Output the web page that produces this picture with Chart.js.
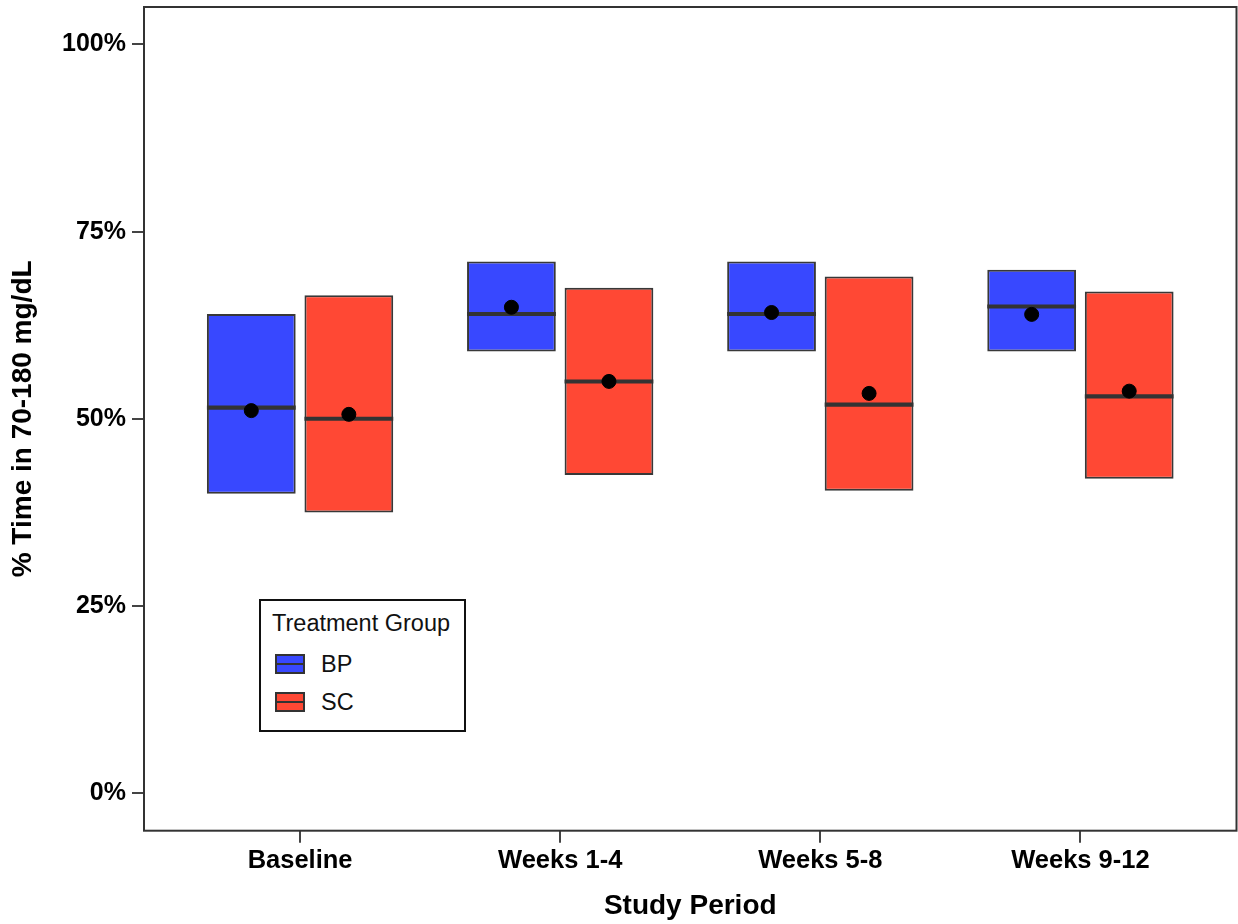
<!DOCTYPE html>
<html>
<head>
<meta charset="utf-8">
<script src="https://cdn.jsdelivr.net/npm/chart.js@4.4.1/dist/chart.umd.min.js"></script>
<style>
html,body{margin:0;padding:0;background:#fff;}
#wrap{position:relative;width:1238px;height:924px;}
canvas{display:block;}
#legend{position:absolute;left:259px;top:599px;width:203px;height:129px;border:2px solid #111;background:#fff;
  font-family:"Liberation Sans",Arial,sans-serif;font-size:23.5px;line-height:23.5px;color:#111;}
#legend .t{position:absolute;white-space:nowrap;}
#legend .sw{position:absolute;width:26px;height:16px;border:2px solid #333;}
#legend .sw::after{content:"";position:absolute;left:0;right:0;top:7px;height:2px;background:#333;}
</style>
</head>
<body>
<div id="wrap">
<canvas id="c" width="1238" height="924"></canvas>
<div id="legend"></div>
</div>
<script>
// ---- data ----
const categories = ['Baseline', 'Weeks 1-4', 'Weeks 5-8', 'Weeks 9-12'];
const groups = ['BP', 'SC'];
const bpQ1 = [40.0, 59.0, 59.0, 59.0];
const bpQ3 = [64.0, 71.0, 71.0, 69.9];
const bpMedian = [51.5, 64.0, 64.0, 65.0];
const bpMean = [51.1, 64.9, 64.2, 63.95];
const scQ1 = [37.5, 42.5, 40.4, 42.0];
const scQ3 = [66.5, 67.5, 69.0, 67.0];
const scMedian = [50.0, 55.0, 51.9, 53.0];
const scMean = [50.6, 55.0, 53.4, 53.7];
const yTicks = [0, 25, 50, 75, 100];

// ---- styles ----
const colors = { BP: 'rgb(56,72,255)', SC: 'rgb(255,72,52)' };
const edge = '#383838';
const catPct = 0.75, barPct = 0.91;
const groupOffset = [-catPct / 4, catPct / 4];
const medianHalf = 0.27;

const seriesData = {
  BP: { q1: bpQ1, q3: bpQ3, med: bpMedian, mean: bpMean },
  SC: { q1: scQ1, q3: scQ3, med: scMedian, mean: scMean }
};

Chart.defaults.font.family = '"Liberation Sans", Arial, sans-serif';
Chart.defaults.color = '#000';

const datasets = [];
groups.forEach(g => {
  const s = seriesData[g];
  datasets.push({
    type: 'bar', label: g, stack: g, order: 3,
    data: categories.map((c, i) => ({ x: i, y: [s.q1[i], s.q3[i]] })),
    backgroundColor: colors[g], borderColor: edge, borderWidth: 2, borderSkipped: false,
    categoryPercentage: catPct, barPercentage: barPct
  });
});
groups.forEach(g => {
  const s = seriesData[g];
  datasets.push({
    type: 'bar', label: g + ' median', stack: g, order: 2,
    data: categories.map((c, i) => ({ x: i, y: [s.med[i] - medianHalf, s.med[i] + medianHalf] })),
    backgroundColor: '#333', borderWidth: 0,
    categoryPercentage: catPct, barPercentage: barPct
  });
});
groups.forEach((g, gi) => {
  const s = seriesData[g];
  datasets.push({
    type: 'scatter', label: g + ' mean', order: 1,
    data: categories.map((c, i) => ({ x: i + groupOffset[gi], y: s.mean[i] })),
    pointRadius: 7, pointBackgroundColor: '#000', pointBorderColor: '#000', pointBorderWidth: 1
  });
});

const framePlugin = {
  id: 'frame',
  beforeDatasetsDraw(chart) {
    const { ctx, chartArea: a } = chart;
    ctx.save();
    ctx.strokeStyle = '#333';
    ctx.lineWidth = 2;
    ctx.strokeRect(a.left, a.top, a.right - a.left, a.bottom - a.top);
    ctx.restore();
  }
};

new Chart(document.getElementById('c'), {
  type: 'bar',
  data: { datasets },
  plugins: [framePlugin],
  options: {
    responsive: false,
    animation: false,
    devicePixelRatio: 1,
    layout: { autoPadding: false, padding: { top: 7, right: 1.5, left: 0, bottom: 0 } },
    plugins: { legend: { display: false }, tooltip: { enabled: false } },
    scales: {
      x: {
        type: 'linear', min: -0.6, max: 3.6, offset: false,
        afterBuildTicks: ax => { ax.ticks = categories.map((c, i) => ({ value: i })); },
        afterFit: ax => { ax.height = 93.3; ax.paddingLeft = 0; ax.paddingRight = 0; },
        ticks: {
          autoSkip: false, maxRotation: 0, padding: 3,
          font: { size: 25.5, weight: 'bold' }, color: '#000',
          callback: v => categories[v]
        },
        grid: { display: true, offset: false, drawOnChartArea: false, drawTicks: true, tickLength: 12, color: '#444', lineWidth: 2 },
        border: { display: false },
        title: { display: true, text: 'Study Period', font: { size: 28, weight: 'bold' }, color: '#000', padding: { top: 0, bottom: 1 } }
      },
      y: {
        type: 'linear', min: -5, max: 105, stacked: false,
        afterBuildTicks: ax => { ax.ticks = yTicks.map(v => ({ value: v })); },
        afterFit: ax => { ax.width = 144; ax.paddingTop = 0; ax.paddingBottom = 0; },
        ticks: {
          padding: 6, font: { size: 25, weight: 'bold' }, color: '#000',
          callback: v => v + '%'
        },
        grid: { display: true, drawOnChartArea: false, drawTicks: true, tickLength: 12, color: '#444', lineWidth: 2 },
        border: { display: false },
        title: { display: true, text: '% Time in 70-180 mg/dL', font: { size: 28, weight: 'bold' }, color: '#000', padding: { top: 6, bottom: 0 } }
      }
    }
  }
});

// ---- legend (HTML text) ----
const lg = document.getElementById('legend');
const title = document.createElement('div');
title.className = 't';
title.style.left = '11px'; title.style.top = '11px';
title.textContent = 'Treatment Group';
lg.appendChild(title);
groups.forEach((g, gi) => {
  const sw = document.createElement('div');
  sw.className = 'sw';
  sw.style.left = '14px'; sw.style.top = (53 + gi * 38) + 'px';
  sw.style.background = colors[g];
  lg.appendChild(sw);
  const t = document.createElement('div');
  t.className = 't';
  t.style.left = '60px'; t.style.top = (52 + gi * 38) + 'px';
  t.textContent = g;
  lg.appendChild(t);
});
</script>
</body>
</html>
